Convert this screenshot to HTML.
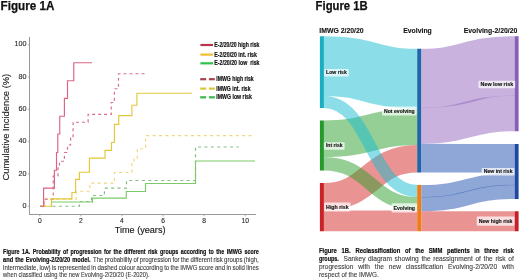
<!DOCTYPE html>
<html><head><meta charset="utf-8"><title>Figure 1</title>
<style>
html,body{margin:0;padding:0;background:#fff;}
body{width:520px;height:280px;overflow:hidden;}
svg{display:block;will-change:transform;font-family:"Liberation Sans", sans-serif;}
</style></head><body>
<svg width="520" height="280" viewBox="0 0 520 280">
<rect width="520" height="280" fill="#fff"/>
<line x1="29.5" y1="37" x2="29.5" y2="214.5" stroke="#999999" stroke-width="1"/>
<line x1="29" y1="214.5" x2="256" y2="214.5" stroke="#999999" stroke-width="1"/>
<line x1="27.8" y1="206.25" x2="29.5" y2="206.25" stroke="#999999" stroke-width="0.8"/>
<text x="26.6" y="207.85" font-size="7.2" fill="#2a2a2a" stroke="#2a2a2a" stroke-width="0.12" text-anchor="end">0</text>
<line x1="27.8" y1="173.95" x2="29.5" y2="173.95" stroke="#999999" stroke-width="0.8"/>
<text x="26.6" y="175.55" font-size="7.2" fill="#2a2a2a" stroke="#2a2a2a" stroke-width="0.12" text-anchor="end">20</text>
<line x1="27.8" y1="141.65" x2="29.5" y2="141.65" stroke="#999999" stroke-width="0.8"/>
<text x="26.6" y="143.25" font-size="7.2" fill="#2a2a2a" stroke="#2a2a2a" stroke-width="0.12" text-anchor="end">40</text>
<line x1="27.8" y1="109.35" x2="29.5" y2="109.35" stroke="#999999" stroke-width="0.8"/>
<text x="26.6" y="110.95" font-size="7.2" fill="#2a2a2a" stroke="#2a2a2a" stroke-width="0.12" text-anchor="end">60</text>
<line x1="27.8" y1="77.05" x2="29.5" y2="77.05" stroke="#999999" stroke-width="0.8"/>
<text x="26.6" y="78.65" font-size="7.2" fill="#2a2a2a" stroke="#2a2a2a" stroke-width="0.12" text-anchor="end">80</text>
<line x1="27.8" y1="44.75" x2="29.5" y2="44.75" stroke="#999999" stroke-width="0.8"/>
<text x="26.6" y="46.35" font-size="7.2" fill="#2a2a2a" stroke="#2a2a2a" stroke-width="0.12" text-anchor="end">100</text>
<line x1="39.75" y1="214.5" x2="39.75" y2="216.3" stroke="#999999" stroke-width="0.8"/>
<text x="39.75" y="223.3" font-size="6.7" fill="#2a2a2a" stroke="#2a2a2a" stroke-width="0.12" text-anchor="middle">0</text>
<line x1="80.85" y1="214.5" x2="80.85" y2="216.3" stroke="#999999" stroke-width="0.8"/>
<text x="80.85" y="223.3" font-size="6.7" fill="#2a2a2a" stroke="#2a2a2a" stroke-width="0.12" text-anchor="middle">2</text>
<line x1="121.95" y1="214.5" x2="121.95" y2="216.3" stroke="#999999" stroke-width="0.8"/>
<text x="121.95" y="223.3" font-size="6.7" fill="#2a2a2a" stroke="#2a2a2a" stroke-width="0.12" text-anchor="middle">4</text>
<line x1="163.05" y1="214.5" x2="163.05" y2="216.3" stroke="#999999" stroke-width="0.8"/>
<text x="163.05" y="223.3" font-size="6.7" fill="#2a2a2a" stroke="#2a2a2a" stroke-width="0.12" text-anchor="middle">6</text>
<line x1="204.15" y1="214.5" x2="204.15" y2="216.3" stroke="#999999" stroke-width="0.8"/>
<text x="204.15" y="223.3" font-size="6.7" fill="#2a2a2a" stroke="#2a2a2a" stroke-width="0.12" text-anchor="middle">8</text>
<line x1="245.25" y1="214.5" x2="245.25" y2="216.3" stroke="#999999" stroke-width="0.8"/>
<text x="245.25" y="223.3" font-size="6.7" fill="#2a2a2a" stroke="#2a2a2a" stroke-width="0.12" text-anchor="middle">10</text>
<text x="114.7" y="233.2" font-size="9" fill="#1a1a1a" stroke="#1a1a1a" stroke-width="0.15" textLength="50.8" lengthAdjust="spacingAndGlyphs">Time (years)</text>
<text transform="translate(9.2,180.4) rotate(-90)" x="0" y="0" font-size="9.5" fill="#1a1a1a" stroke="#1a1a1a" stroke-width="0.12" textLength="106.6" lengthAdjust="spacingAndGlyphs">Cumulative Incidence (%)</text>
<path d="M52.50,206.25 L79.40,206.25 L79.40,201.50 L91.50,201.50 L91.50,195.50 L104.40,195.50 L104.40,188.10 L126.50,188.10 L126.50,180.50 L195.50,180.50 L195.50,147.00 L238.75,147.00" fill="none" stroke="#86bc84" stroke-width="1.20" stroke-dasharray="3,3.4"/>
<path d="M44.00,206.25 L45.00,206.25 L45.00,199.10 L76.25,199.10 L76.25,191.25 L89.75,191.25 L89.75,183.10 L114.40,183.10 L114.40,172.50 L131.90,172.50 L131.90,163.00 L134.00,163.00 L134.00,158.75 L137.25,158.75 L137.25,148.75 L145.60,148.75 L145.60,135.60 L254.00,135.60" fill="none" stroke="#f0d680" stroke-width="1.20" stroke-dasharray="3,3.4"/>
<path d="M40.00,206.25 L44.00,206.25 L44.00,199.10 L53.25,199.10 L53.25,176.00 L58.00,176.00 L58.00,165.00 L59.50,165.00 L59.50,161.25 L64.40,161.25 L64.40,152.50 L67.50,152.50 L67.50,145.00 L70.60,145.00 L70.60,138.00 L73.10,138.00 L73.10,122.25 L88.10,122.25 L88.10,114.40 L111.25,114.40 L111.25,102.50 L114.40,102.50 L114.40,88.75 L118.50,88.75 L118.50,73.75 L145.60,73.75" fill="none" stroke="#d87090" stroke-width="1.20" stroke-dasharray="3,3"/>
<path d="M51.50,206.25 L51.50,202.00 L92.50,202.00 L92.50,198.10 L126.25,198.10 L126.25,191.50 L145.50,191.50 L145.50,183.50 L195.50,183.50 L195.50,161.00 L255.00,161.00" fill="none" stroke="#7ccb6a" stroke-width="1.15"/>
<path d="M40.00,206.25 L51.50,206.25 L51.50,198.90 L71.90,198.90 L71.90,192.50 L75.60,192.50 L75.60,179.40 L79.40,179.40 L79.40,172.25 L89.40,172.25 L89.40,158.10 L105.00,158.10 L105.00,150.30 L111.50,150.30 L111.50,142.50 L114.40,142.50 L114.40,124.40 L118.75,124.40 L118.75,115.60 L131.90,115.60 L131.90,105.25 L136.90,105.25 L136.90,93.20 L191.80,93.20" fill="none" stroke="#e4c83a" stroke-width="1.15"/>
<path d="M40.00,206.25 L43.60,206.25 L43.60,188.10 L54.40,188.10 L54.40,170.20 L56.50,170.20 L56.50,152.50 L57.80,152.50 L57.80,134.00 L59.75,134.00 L59.75,116.20 L64.40,116.20 L64.40,98.30 L67.50,98.30 L67.50,80.70 L73.75,80.70 L73.75,62.70 L92.00,62.70" fill="none" stroke="#dc6482" stroke-width="1.15"/>
<line x1="200.4" y1="45.00" x2="213" y2="45.00" stroke="#b8344a" stroke-width="2.2"/>
<text x="214.30" y="46.90" font-size="6.3" font-weight="bold" fill="#111" stroke="#111" stroke-width="0.18" textLength="45.20" lengthAdjust="spacingAndGlyphs" xml:space="preserve">E-2/20/20 high risk</text>
<line x1="200.4" y1="54.60" x2="213" y2="54.60" stroke="#f0be30" stroke-width="2.2"/>
<text x="214.30" y="56.50" font-size="6.3" font-weight="bold" fill="#111" stroke="#111" stroke-width="0.18" textLength="42.60" lengthAdjust="spacingAndGlyphs" xml:space="preserve">E-2/20/20 int. risk</text>
<line x1="200.4" y1="63.30" x2="213" y2="63.30" stroke="#2fc24a" stroke-width="2.2"/>
<text x="214.30" y="65.20" font-size="6.3" font-weight="bold" fill="#111" stroke="#111" stroke-width="0.18" textLength="45.20" lengthAdjust="spacingAndGlyphs" xml:space="preserve">E-2/20/20 low  risk</text>
<line x1="200.2" y1="79.20" x2="206.2" y2="79.20" stroke="#a84050" stroke-width="2.2"/>
<line x1="208.9" y1="79.20" x2="214.8" y2="79.20" stroke="#a84050" stroke-width="2.2"/>
<text x="216.30" y="81.10" font-size="6.3" font-weight="bold" fill="#111" stroke="#111" stroke-width="0.18" textLength="37.40" lengthAdjust="spacingAndGlyphs" xml:space="preserve">IMWG high risk</text>
<line x1="200.2" y1="88.60" x2="206.2" y2="88.60" stroke="#d8c830" stroke-width="2.2"/>
<line x1="208.9" y1="88.60" x2="214.8" y2="88.60" stroke="#d8c830" stroke-width="2.2"/>
<text x="216.30" y="90.50" font-size="6.3" font-weight="bold" fill="#111" stroke="#111" stroke-width="0.18" textLength="34.30" lengthAdjust="spacingAndGlyphs" xml:space="preserve">IMWG int. risk</text>
<line x1="200.2" y1="97.30" x2="206.2" y2="97.30" stroke="#36b84a" stroke-width="2.2"/>
<line x1="208.9" y1="97.30" x2="214.8" y2="97.30" stroke="#36b84a" stroke-width="2.2"/>
<text x="216.30" y="99.20" font-size="6.3" font-weight="bold" fill="#111" stroke="#111" stroke-width="0.18" textLength="35.60" lengthAdjust="spacingAndGlyphs" xml:space="preserve">IMWG low risk</text>
<text x="0.6" y="10.1" font-size="11.9" font-weight="bold" fill="#111" stroke="#111" stroke-width="0.25" textLength="53.8" lengthAdjust="spacingAndGlyphs">Figure 1A</text>
<text x="315.6" y="10.1" font-size="11.9" font-weight="bold" fill="#111" stroke="#111" stroke-width="0.25" textLength="52.1" lengthAdjust="spacingAndGlyphs">Figure 1B</text>
<path d="M323.75,220.88 C370.50,220.88 370.50,220.88 417.25,220.88" fill="none" stroke="#d62728" stroke-opacity="0.50" stroke-width="20.75"/>
<path d="M323.75,196.75 C370.50,196.75 370.50,158.75 417.25,158.75" fill="none" stroke="#d62728" stroke-opacity="0.50" stroke-width="27.50"/>
<path d="M323.75,138.75 C370.50,138.75 370.50,126.75 417.25,126.75" fill="none" stroke="#2ca02c" stroke-opacity="0.50" stroke-width="36.50"/>
<path d="M323.75,163.75 C370.50,163.75 370.50,203.75 417.25,203.75" fill="none" stroke="#2ca02c" stroke-opacity="0.50" stroke-width="13.50"/>
<path d="M323.75,66.12 C370.50,66.12 370.50,78.62 417.25,78.62" fill="none" stroke="#17becf" stroke-opacity="0.50" stroke-width="59.75"/>
<path d="M323.75,102.00 C370.50,102.00 370.50,191.00 417.25,191.00" fill="none" stroke="#17becf" stroke-opacity="0.50" stroke-width="12.00"/>
<path d="M421.25,78.47 C467.88,78.47 467.88,65.92 514.50,65.92" fill="none" stroke="#9467bd" stroke-opacity="0.50" stroke-width="59.45"/>
<path d="M421.25,125.83 C467.88,125.83 467.88,113.28 514.50,113.28" fill="none" stroke="#9467bd" stroke-opacity="0.50" stroke-width="35.85"/>
<path d="M421.25,158.12 C467.88,158.12 467.88,158.38 514.50,158.38" fill="none" stroke="#1f4fae" stroke-opacity="0.50" stroke-width="28.75"/>
<path d="M421.25,191.20 C467.88,191.20 467.88,178.93 514.50,178.93" fill="none" stroke="#1f4fae" stroke-opacity="0.50" stroke-width="12.40"/>
<path d="M421.25,204.18 C467.88,204.18 467.88,191.90 514.50,191.90" fill="none" stroke="#1f4fae" stroke-opacity="0.50" stroke-width="14.15"/>
<path d="M421.25,221.25 C467.88,221.25 467.88,221.25 514.50,221.25" fill="none" stroke="#d62728" stroke-opacity="0.50" stroke-width="20.00"/>
<rect x="319.90" y="36.25" width="4" height="71.75" fill="#1aaec0"/>
<rect x="319.90" y="120.50" width="4" height="50.00" fill="#259a2a"/>
<rect x="319.90" y="183.00" width="4" height="48.25" fill="#c82428"/>
<rect x="417.20" y="48.75" width="4" height="123.75" fill="#2166a8"/>
<rect x="417.20" y="185.00" width="4" height="46.25" fill="#f07c14"/>
<rect x="514.60" y="36.25" width="4" height="95.00" fill="#8660b4"/>
<rect x="514.60" y="144.00" width="4" height="55.00" fill="#1d48a4"/>
<rect x="514.60" y="211.25" width="4" height="20.00" fill="#c4202a"/>
<rect x="324.10" y="69.00" width="24.70" height="7.60" fill="#fff" fill-opacity="0.7" rx="1"/><text x="326.10" y="74.10" font-size="5.30" font-weight="bold" fill="#111" stroke="#111" stroke-width="0.12" textLength="20.70" lengthAdjust="spacingAndGlyphs">Low risk</text>
<rect x="323.90" y="142.20" width="20.70" height="7.60" fill="#fff" fill-opacity="0.7" rx="1"/><text x="325.90" y="147.30" font-size="5.30" font-weight="bold" fill="#111" stroke="#111" stroke-width="0.12" textLength="16.70" lengthAdjust="spacingAndGlyphs">Int risk</text>
<rect x="324.10" y="202.40" width="26.50" height="9.20" fill="#fff" fill-opacity="0.7" rx="1"/><text x="326.10" y="208.80" font-size="5.30" font-weight="bold" fill="#111" stroke="#111" stroke-width="0.12" textLength="22.50" lengthAdjust="spacingAndGlyphs">High risk</text>
<rect x="382.00" y="106.40" width="34.70" height="9.20" fill="#fff" fill-opacity="0.7" rx="1"/><text x="384.00" y="112.80" font-size="5.30" font-weight="bold" fill="#111" stroke="#111" stroke-width="0.12" textLength="30.70" lengthAdjust="spacingAndGlyphs">Not evolving</text>
<rect x="391.50" y="203.20" width="25.50" height="9.20" fill="#fff" fill-opacity="0.7" rx="1"/><text x="393.50" y="209.60" font-size="5.30" font-weight="bold" fill="#111" stroke="#111" stroke-width="0.12" textLength="21.50" lengthAdjust="spacingAndGlyphs">Evolving</text>
<rect x="478.50" y="80.70" width="36.70" height="7.60" fill="#fff" fill-opacity="0.7" rx="1"/><text x="480.50" y="85.80" font-size="5.30" font-weight="bold" fill="#111" stroke="#111" stroke-width="0.12" textLength="32.70" lengthAdjust="spacingAndGlyphs">New low risk</text>
<rect x="481.70" y="168.00" width="32.80" height="7.60" fill="#fff" fill-opacity="0.7" rx="1"/><text x="483.70" y="173.10" font-size="5.30" font-weight="bold" fill="#111" stroke="#111" stroke-width="0.12" textLength="28.80" lengthAdjust="spacingAndGlyphs">New int risk</text>
<rect x="476.70" y="216.60" width="37.80" height="9.20" fill="#fff" fill-opacity="0.7" rx="1"/><text x="478.70" y="223.00" font-size="5.30" font-weight="bold" fill="#111" stroke="#111" stroke-width="0.12" textLength="33.80" lengthAdjust="spacingAndGlyphs">New high risk</text>
<text x="319.3" y="32.6" font-size="7.0" font-weight="bold" fill="#111" stroke="#111" stroke-width="0.1" textLength="44.4" lengthAdjust="spacingAndGlyphs">IMWG 2/20/20</text>
<text x="403.2" y="32.7" font-size="7.0" font-weight="bold" fill="#111" stroke="#111" stroke-width="0.1" textLength="28.6" lengthAdjust="spacingAndGlyphs">Evolving</text>
<text x="463.7" y="32.8" font-size="7.3" font-weight="bold" fill="#111" stroke="#111" stroke-width="0.1" textLength="53.7" lengthAdjust="spacingAndGlyphs">Evolving-2/20/20</text>
<text x="3.10" y="254.40" font-size="6.40" font-weight="bold" fill="#111" stroke="#111" stroke-width="0.20" textLength="16.43" lengthAdjust="spacingAndGlyphs">Figure</text>
<text x="21.96" y="254.40" font-size="6.40" font-weight="bold" fill="#111" stroke="#111" stroke-width="0.20" textLength="8.37" lengthAdjust="spacingAndGlyphs">1A.</text>
<text x="32.76" y="254.40" font-size="6.40" font-weight="bold" fill="#111" stroke="#111" stroke-width="0.20" textLength="27.79" lengthAdjust="spacingAndGlyphs">Probability</text>
<text x="62.97" y="254.40" font-size="6.40" font-weight="bold" fill="#111" stroke="#111" stroke-width="0.20" textLength="5.08" lengthAdjust="spacingAndGlyphs">of</text>
<text x="70.48" y="254.40" font-size="6.40" font-weight="bold" fill="#111" stroke="#111" stroke-width="0.20" textLength="31.07" lengthAdjust="spacingAndGlyphs">progression</text>
<text x="103.98" y="254.40" font-size="6.40" font-weight="bold" fill="#111" stroke="#111" stroke-width="0.20" textLength="7.17" lengthAdjust="spacingAndGlyphs">for</text>
<text x="113.58" y="254.40" font-size="6.40" font-weight="bold" fill="#111" stroke="#111" stroke-width="0.20" textLength="8.07" lengthAdjust="spacingAndGlyphs">the</text>
<text x="124.08" y="254.40" font-size="6.40" font-weight="bold" fill="#111" stroke="#111" stroke-width="0.20" textLength="21.51" lengthAdjust="spacingAndGlyphs">different</text>
<text x="148.01" y="254.40" font-size="6.40" font-weight="bold" fill="#111" stroke="#111" stroke-width="0.20" textLength="9.57" lengthAdjust="spacingAndGlyphs">risk</text>
<text x="160.01" y="254.40" font-size="6.40" font-weight="bold" fill="#111" stroke="#111" stroke-width="0.20" textLength="18.22" lengthAdjust="spacingAndGlyphs">groups</text>
<text x="180.66" y="254.40" font-size="6.40" font-weight="bold" fill="#111" stroke="#111" stroke-width="0.20" textLength="25.70" lengthAdjust="spacingAndGlyphs">according</text>
<text x="208.79" y="254.40" font-size="6.40" font-weight="bold" fill="#111" stroke="#111" stroke-width="0.20" textLength="5.08" lengthAdjust="spacingAndGlyphs">to</text>
<text x="216.29" y="254.40" font-size="6.40" font-weight="bold" fill="#111" stroke="#111" stroke-width="0.20" textLength="8.07" lengthAdjust="spacingAndGlyphs">the</text>
<text x="226.79" y="254.40" font-size="6.40" font-weight="bold" fill="#111" stroke="#111" stroke-width="0.20" textLength="15.23" lengthAdjust="spacingAndGlyphs">IMWG</text>
<text x="244.45" y="254.40" font-size="6.40" font-weight="bold" fill="#111" stroke="#111" stroke-width="0.20" textLength="14.35" lengthAdjust="spacingAndGlyphs">score</text>
<text x="3.10" y="262.10" font-size="6.40" font-weight="bold" fill="#111" stroke="#111" stroke-width="0.20" textLength="10.07" lengthAdjust="spacingAndGlyphs">and</text>
<text x="15.26" y="262.10" font-size="6.40" font-weight="bold" fill="#111" stroke="#111" stroke-width="0.20" textLength="8.50" lengthAdjust="spacingAndGlyphs">the</text>
<text x="25.85" y="262.10" font-size="6.40" font-weight="bold" fill="#111" stroke="#111" stroke-width="0.20" textLength="44.40" lengthAdjust="spacingAndGlyphs">Evolving-2/20/20</text>
<text x="72.34" y="262.10" font-size="6.40" font-weight="bold" fill="#111" stroke="#111" stroke-width="0.20" textLength="18.26" lengthAdjust="spacingAndGlyphs">model.</text>
<text x="93.10" y="262.10" font-size="6.40" fill="#3c3c3c" stroke="#3c3c3c" stroke-width="0.10" textLength="10.33" lengthAdjust="spacingAndGlyphs">The</text>
<text x="104.78" y="262.10" font-size="6.40" fill="#3c3c3c" stroke="#3c3c3c" stroke-width="0.10" textLength="27.33" lengthAdjust="spacingAndGlyphs">probability</text>
<text x="133.47" y="262.10" font-size="6.40" fill="#3c3c3c" stroke="#3c3c3c" stroke-width="0.10" textLength="5.00" lengthAdjust="spacingAndGlyphs">of</text>
<text x="139.82" y="262.10" font-size="6.40" fill="#3c3c3c" stroke="#3c3c3c" stroke-width="0.10" textLength="31.33" lengthAdjust="spacingAndGlyphs">progression</text>
<text x="172.50" y="262.10" font-size="6.40" fill="#3c3c3c" stroke="#3c3c3c" stroke-width="0.10" textLength="7.00" lengthAdjust="spacingAndGlyphs">for</text>
<text x="180.85" y="262.10" font-size="6.40" fill="#3c3c3c" stroke="#3c3c3c" stroke-width="0.10" textLength="8.34" lengthAdjust="spacingAndGlyphs">the</text>
<text x="190.53" y="262.10" font-size="6.40" fill="#3c3c3c" stroke="#3c3c3c" stroke-width="0.10" textLength="21.56" lengthAdjust="spacingAndGlyphs">different</text>
<text x="213.44" y="262.10" font-size="6.40" fill="#3c3c3c" stroke="#3c3c3c" stroke-width="0.10" textLength="9.33" lengthAdjust="spacingAndGlyphs">risk</text>
<text x="224.12" y="262.10" font-size="6.40" fill="#3c3c3c" stroke="#3c3c3c" stroke-width="0.10" textLength="18.33" lengthAdjust="spacingAndGlyphs">groups</text>
<text x="243.80" y="262.10" font-size="6.40" fill="#3c3c3c" stroke="#3c3c3c" stroke-width="0.10" textLength="15.00" lengthAdjust="spacingAndGlyphs">(high,</text>
<text x="3.10" y="269.70" font-size="6.40" fill="#3c3c3c" stroke="#3c3c3c" stroke-width="0.10" textLength="35.03" lengthAdjust="spacingAndGlyphs">intermediate,</text>
<text x="39.48" y="269.70" font-size="6.40" fill="#3c3c3c" stroke="#3c3c3c" stroke-width="0.10" textLength="11.11" lengthAdjust="spacingAndGlyphs">low)</text>
<text x="51.94" y="269.70" font-size="6.40" fill="#3c3c3c" stroke="#3c3c3c" stroke-width="0.10" textLength="4.38" lengthAdjust="spacingAndGlyphs">is</text>
<text x="57.67" y="269.70" font-size="6.40" fill="#3c3c3c" stroke="#3c3c3c" stroke-width="0.10" textLength="32.34" lengthAdjust="spacingAndGlyphs">represented</text>
<text x="91.36" y="269.70" font-size="6.40" fill="#3c3c3c" stroke="#3c3c3c" stroke-width="0.10" textLength="4.72" lengthAdjust="spacingAndGlyphs">in</text>
<text x="97.43" y="269.70" font-size="6.40" fill="#3c3c3c" stroke="#3c3c3c" stroke-width="0.10" textLength="19.88" lengthAdjust="spacingAndGlyphs">dashed</text>
<text x="118.66" y="269.70" font-size="6.40" fill="#3c3c3c" stroke="#3c3c3c" stroke-width="0.10" textLength="16.50" lengthAdjust="spacingAndGlyphs">colour</text>
<text x="136.51" y="269.70" font-size="6.40" fill="#3c3c3c" stroke="#3c3c3c" stroke-width="0.10" textLength="26.28" lengthAdjust="spacingAndGlyphs">according</text>
<text x="164.14" y="269.70" font-size="6.40" fill="#3c3c3c" stroke="#3c3c3c" stroke-width="0.10" textLength="5.05" lengthAdjust="spacingAndGlyphs">to</text>
<text x="170.54" y="269.70" font-size="6.40" fill="#3c3c3c" stroke="#3c3c3c" stroke-width="0.10" textLength="8.42" lengthAdjust="spacingAndGlyphs">the</text>
<text x="180.31" y="269.70" font-size="6.40" fill="#3c3c3c" stroke="#3c3c3c" stroke-width="0.10" textLength="17.16" lengthAdjust="spacingAndGlyphs">IMWG</text>
<text x="198.83" y="269.70" font-size="6.40" fill="#3c3c3c" stroke="#3c3c3c" stroke-width="0.10" textLength="14.82" lengthAdjust="spacingAndGlyphs">score</text>
<text x="215.00" y="269.70" font-size="6.40" fill="#3c3c3c" stroke="#3c3c3c" stroke-width="0.10" textLength="10.11" lengthAdjust="spacingAndGlyphs">and</text>
<text x="226.46" y="269.70" font-size="6.40" fill="#3c3c3c" stroke="#3c3c3c" stroke-width="0.10" textLength="4.72" lengthAdjust="spacingAndGlyphs">in</text>
<text x="232.52" y="269.70" font-size="6.40" fill="#3c3c3c" stroke="#3c3c3c" stroke-width="0.10" textLength="12.46" lengthAdjust="spacingAndGlyphs">solid</text>
<text x="246.34" y="269.70" font-size="6.40" fill="#3c3c3c" stroke="#3c3c3c" stroke-width="0.10" textLength="12.46" lengthAdjust="spacingAndGlyphs">lines</text>
<text x="3.10" y="277.20" font-size="6.40" fill="#3c3c3c" stroke="#3c3c3c" stroke-width="0.10" textLength="13.78" lengthAdjust="spacingAndGlyphs">when</text>
<text x="18.48" y="277.20" font-size="6.40" fill="#3c3c3c" stroke="#3c3c3c" stroke-width="0.10" textLength="23.70" lengthAdjust="spacingAndGlyphs">classified</text>
<text x="43.78" y="277.20" font-size="6.40" fill="#3c3c3c" stroke="#3c3c3c" stroke-width="0.10" textLength="13.78" lengthAdjust="spacingAndGlyphs">using</text>
<text x="59.16" y="277.20" font-size="6.40" fill="#3c3c3c" stroke="#3c3c3c" stroke-width="0.10" textLength="8.01" lengthAdjust="spacingAndGlyphs">the</text>
<text x="68.77" y="277.20" font-size="6.40" fill="#3c3c3c" stroke="#3c3c3c" stroke-width="0.10" textLength="10.57" lengthAdjust="spacingAndGlyphs">new</text>
<text x="80.95" y="277.20" font-size="6.40" fill="#3c3c3c" stroke="#3c3c3c" stroke-width="0.10" textLength="42.93" lengthAdjust="spacingAndGlyphs">Evolving-2/20/20</text>
<text x="125.48" y="277.20" font-size="6.40" fill="#3c3c3c" stroke="#3c3c3c" stroke-width="0.10" textLength="24.02" lengthAdjust="spacingAndGlyphs">(E-2020).</text>
<text x="318.90" y="252.70" font-size="6.70" font-weight="bold" fill="#111" stroke="#111" stroke-width="0.20" textLength="18.01" lengthAdjust="spacingAndGlyphs">Figure</text>
<text x="341.57" y="252.70" font-size="6.70" font-weight="bold" fill="#111" stroke="#111" stroke-width="0.20" textLength="9.17" lengthAdjust="spacingAndGlyphs">1B.</text>
<text x="355.41" y="252.70" font-size="6.70" font-weight="bold" fill="#111" stroke="#111" stroke-width="0.20" textLength="44.87" lengthAdjust="spacingAndGlyphs">Reclassification</text>
<text x="404.94" y="252.70" font-size="6.70" font-weight="bold" fill="#111" stroke="#111" stroke-width="0.20" textLength="5.56" lengthAdjust="spacingAndGlyphs">of</text>
<text x="415.17" y="252.70" font-size="6.70" font-weight="bold" fill="#111" stroke="#111" stroke-width="0.20" textLength="8.84" lengthAdjust="spacingAndGlyphs">the</text>
<text x="428.67" y="252.70" font-size="6.70" font-weight="bold" fill="#111" stroke="#111" stroke-width="0.20" textLength="13.75" lengthAdjust="spacingAndGlyphs">SMM</text>
<text x="447.08" y="252.70" font-size="6.70" font-weight="bold" fill="#111" stroke="#111" stroke-width="0.20" textLength="22.59" lengthAdjust="spacingAndGlyphs">patients</text>
<text x="474.34" y="252.70" font-size="6.70" font-weight="bold" fill="#111" stroke="#111" stroke-width="0.20" textLength="5.24" lengthAdjust="spacingAndGlyphs">in</text>
<text x="484.24" y="252.70" font-size="6.70" font-weight="bold" fill="#111" stroke="#111" stroke-width="0.20" textLength="14.41" lengthAdjust="spacingAndGlyphs">three</text>
<text x="503.31" y="252.70" font-size="6.70" font-weight="bold" fill="#111" stroke="#111" stroke-width="0.20" textLength="10.49" lengthAdjust="spacingAndGlyphs">risk</text>
<text x="318.90" y="260.60" font-size="6.70" font-weight="bold" fill="#111" stroke="#111" stroke-width="0.20" textLength="20.00" lengthAdjust="spacingAndGlyphs">groups.</text>
<text x="343.50" y="260.60" font-size="6.59" fill="#3c3c3c" stroke="#3c3c3c" stroke-width="0.10" textLength="21.99" lengthAdjust="spacingAndGlyphs">Sankey</text>
<text x="368.13" y="260.60" font-size="6.59" fill="#3c3c3c" stroke="#3c3c3c" stroke-width="0.10" textLength="23.82" lengthAdjust="spacingAndGlyphs">diagram</text>
<text x="394.59" y="260.60" font-size="6.59" fill="#3c3c3c" stroke="#3c3c3c" stroke-width="0.10" textLength="24.19" lengthAdjust="spacingAndGlyphs">showing</text>
<text x="421.43" y="260.60" font-size="6.59" fill="#3c3c3c" stroke="#3c3c3c" stroke-width="0.10" textLength="9.16" lengthAdjust="spacingAndGlyphs">the</text>
<text x="433.24" y="260.60" font-size="6.59" fill="#3c3c3c" stroke="#3c3c3c" stroke-width="0.10" textLength="39.57" lengthAdjust="spacingAndGlyphs">reassignment</text>
<text x="475.45" y="260.60" font-size="6.59" fill="#3c3c3c" stroke="#3c3c3c" stroke-width="0.10" textLength="5.50" lengthAdjust="spacingAndGlyphs">of</text>
<text x="483.60" y="260.60" font-size="6.59" fill="#3c3c3c" stroke="#3c3c3c" stroke-width="0.10" textLength="9.16" lengthAdjust="spacingAndGlyphs">the</text>
<text x="495.40" y="260.60" font-size="6.59" fill="#3c3c3c" stroke="#3c3c3c" stroke-width="0.10" textLength="10.25" lengthAdjust="spacingAndGlyphs">risk</text>
<text x="508.30" y="260.60" font-size="6.59" fill="#3c3c3c" stroke="#3c3c3c" stroke-width="0.10" textLength="5.50" lengthAdjust="spacingAndGlyphs">of</text>
<text x="318.90" y="269.30" font-size="6.59" fill="#3c3c3c" stroke="#3c3c3c" stroke-width="0.10" textLength="34.44" lengthAdjust="spacingAndGlyphs">progression</text>
<text x="358.22" y="269.30" font-size="6.59" fill="#3c3c3c" stroke="#3c3c3c" stroke-width="0.10" textLength="11.72" lengthAdjust="spacingAndGlyphs">with</text>
<text x="374.83" y="269.30" font-size="6.59" fill="#3c3c3c" stroke="#3c3c3c" stroke-width="0.10" textLength="9.16" lengthAdjust="spacingAndGlyphs">the</text>
<text x="388.87" y="269.30" font-size="6.59" fill="#3c3c3c" stroke="#3c3c3c" stroke-width="0.10" textLength="12.09" lengthAdjust="spacingAndGlyphs">new</text>
<text x="405.84" y="269.30" font-size="6.59" fill="#3c3c3c" stroke="#3c3c3c" stroke-width="0.10" textLength="37.37" lengthAdjust="spacingAndGlyphs">classification</text>
<text x="448.09" y="269.30" font-size="6.59" fill="#3c3c3c" stroke="#3c3c3c" stroke-width="0.10" textLength="49.11" lengthAdjust="spacingAndGlyphs">Evolving-2/20/20</text>
<text x="502.08" y="269.30" font-size="6.59" fill="#3c3c3c" stroke="#3c3c3c" stroke-width="0.10" textLength="11.72" lengthAdjust="spacingAndGlyphs">with</text>
<text x="318.90" y="277.40" font-size="6.59" fill="#3c3c3c" stroke="#3c3c3c" stroke-width="0.10" textLength="20.79" lengthAdjust="spacingAndGlyphs">respect</text>
<text x="341.45" y="277.40" font-size="6.59" fill="#3c3c3c" stroke="#3c3c3c" stroke-width="0.10" textLength="5.29" lengthAdjust="spacingAndGlyphs">of</text>
<text x="348.50" y="277.40" font-size="6.59" fill="#3c3c3c" stroke="#3c3c3c" stroke-width="0.10" textLength="8.81" lengthAdjust="spacingAndGlyphs">the</text>
<text x="359.08" y="277.40" font-size="6.59" fill="#3c3c3c" stroke="#3c3c3c" stroke-width="0.10" textLength="19.72" lengthAdjust="spacingAndGlyphs">IMWG.</text>
</svg>
</body></html>
